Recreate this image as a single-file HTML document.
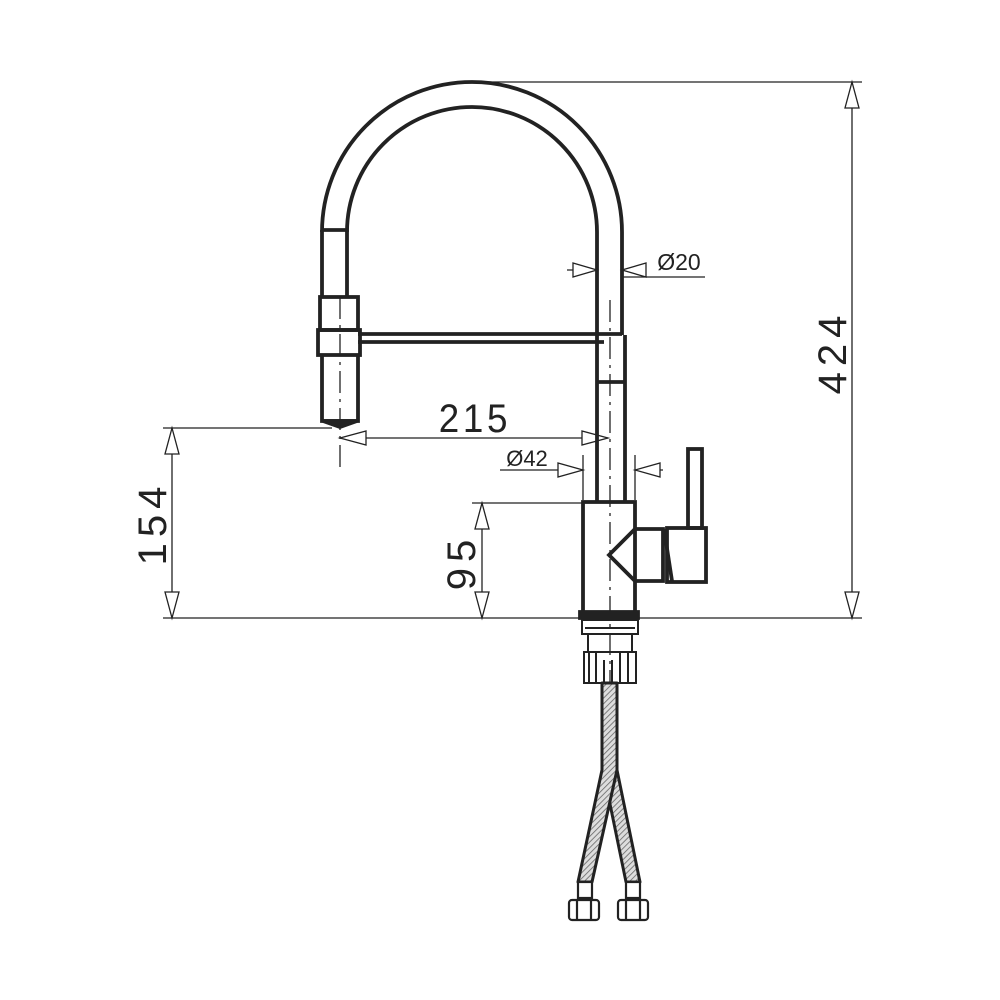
<!DOCTYPE html>
<html><head><meta charset="utf-8"><style>html,body{margin:0;padding:0;background:#fff}svg{display:block}</style></head>
<body>
<svg width="1000" height="1000" viewBox="0 0 1000 1000" xmlns="http://www.w3.org/2000/svg">
<defs>
<pattern id="br" width="4" height="4" patternUnits="userSpaceOnUse" patternTransform="rotate(45)">
<rect width="4" height="4" fill="#ddd"/><line x1="0" y1="0" x2="0" y2="4" stroke="#666" stroke-width="1.6"/>
</pattern>
</defs>
<g fill="none" stroke="#222" font-family="Liberation Sans, DejaVu Sans, sans-serif">
<g stroke-width="1.3">
<line x1="480" y1="82" x2="862" y2="82"/>
<line x1="163" y1="618" x2="862" y2="618"/>
<line x1="852" y1="82" x2="852" y2="618"/>
<line x1="163" y1="428" x2="332" y2="428"/>
<line x1="172" y1="428" x2="172" y2="618"/>
<line x1="472" y1="503" x2="583" y2="503"/>
<line x1="482" y1="503" x2="482" y2="618"/>
<line x1="340" y1="438" x2="608" y2="438"/>
<line x1="567" y1="270" x2="597" y2="270"/>
<line x1="622" y1="277" x2="705" y2="277"/>
<line x1="500" y1="470" x2="583" y2="470"/>
<line x1="635" y1="470" x2="663" y2="470"/>
<line x1="583" y1="455" x2="583" y2="500"/>
<line x1="635" y1="455" x2="635" y2="500"/>
</g>
<g stroke-width="1.3" fill="#fff">
<polygon points="852,82 845,108 859,108"/>
<polygon points="852,618 845,592 859,592"/>
<polygon points="172,428 165,454 179,454"/>
<polygon points="172,618 165,592 179,592"/>
<polygon points="482,503 475,529 489,529"/>
<polygon points="482,618 475,592 489,592"/>
<polygon points="340,438 366,431 366,445"/>
<polygon points="608,438 582,431 582,445"/>
<polygon points="597,270 573,263 573,277"/>
<polygon points="622,270 646,263 646,277"/>
<polygon points="583,470 558,463 558,477"/>
<polygon points="635,470 660,463 660,477"/>
</g>
<g fill="#222" stroke="none">
<text x="475" y="432" font-size="40" text-anchor="middle" letter-spacing="4" transform="translate(475,0) scale(0.92,1) translate(-475,0)">215</text>
<text x="679" y="270" font-size="23" text-anchor="middle">Ø20</text>
<text x="527" y="466" font-size="22" text-anchor="middle">Ø42</text>
<text transform="translate(846,352) rotate(-90)" font-size="40" text-anchor="middle" letter-spacing="6">424</text>
<text transform="translate(166,523) rotate(-90)" font-size="40" text-anchor="middle" letter-spacing="6">154</text>
<text transform="translate(475,562) rotate(-90)" font-size="40" text-anchor="middle" letter-spacing="6">95</text>
</g>
<g stroke-width="3.8">
<path d="M322,232 A150,150 0 0 1 622,232 L622,335"/>
<path d="M347,232 A125,125 0 0 1 597,232 L597,335"/>
<line x1="322" y1="230" x2="322" y2="297"/>
<line x1="347" y1="230" x2="347" y2="297"/>
<line x1="322" y1="230" x2="347" y2="230"/>
<rect x="320" y="297" width="38" height="33"/>
<rect x="318" y="330" width="42" height="25"/>
<path d="M322,355 L322,421 L358,421 L358,355"/>
<path d="M323,421 L340,427 L357,421 Z" fill="#222"/>
<line x1="358" y1="334" x2="622" y2="334"/>
<line x1="358" y1="342" x2="604" y2="342"/>
<path d="M597,335 L597,502 M625,335 L625,502"/>
<line x1="597" y1="382" x2="625" y2="382"/>
<rect x="583" y="502" width="52" height="111"/>
<path d="M635,529 L663,529 L663,581 L635,581 M635,529 L609,555 L635,581"/>
<rect x="667" y="528" width="39" height="54"/>
<rect x="688" y="449" width="14" height="79"/>
<line x1="664" y1="529" x2="672" y2="581"/>
<rect x="580" y="612" width="58" height="6" fill="#222"/>
<rect x="582" y="620" width="56" height="14" stroke-width="2"/>
</g>
<g stroke-width="2">
<line x1="585" y1="628" x2="635" y2="628"/>
<path d="M588,634 L588,652 M632,634 L632,652"/>
<rect x="584" y="652" width="52" height="31"/>
<path d="M589,652 V683 M596,652 V683 M604,660 V683 M612,660 V683 M620,652 V683 M628,652 V683"/>
</g>
<g stroke-width="1.3" stroke-dasharray="22,6,3,6">
<line x1="340" y1="297" x2="340" y2="470"/>
<line x1="610" y1="300" x2="610" y2="700"/>
</g>
<g fill="url(#br)" stroke-width="3" stroke-linejoin="round">
<polygon points="603,770 617,770 640,882 626,882"/>
<polygon points="602,683 617,683 617,770 592,882 578,882 602,770"/>
</g>
<g stroke-width="2.2" fill="#fff">
<rect x="578" y="882" width="14" height="16"/>
<rect x="626" y="882" width="14" height="16"/>
<rect x="569" y="900" width="30" height="20" rx="3"/>
<rect x="618" y="900" width="30" height="20" rx="3"/>
<path d="M577,900 V920 M591,900 V920 M626,900 V920 M640,900 V920"/>
</g>
</g>
</svg>
</body></html>
